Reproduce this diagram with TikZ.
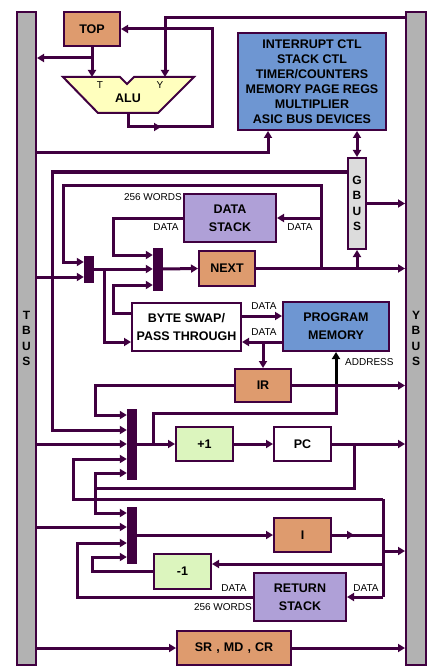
\documentclass[tikz,border=0pt]{standalone}
\usepackage{fontspec}
\setmainfont{Liberation Sans}
\usetikzlibrary{arrows.meta}

\definecolor{wirec}{RGB}{64,0,64}
\definecolor{busgray}{RGB}{178,178,178}
\definecolor{gbusgray}{RGB}{220,220,220}
\definecolor{regorange}{RGB}{222,155,110}
\definecolor{periphblue}{RGB}{110,150,210}
\definecolor{stacklav}{RGB}{175,160,215}
\definecolor{incgreen}{RGB}{220,245,190}
\definecolor{aluyellow}{RGB}{255,255,190}

\newcommand{\boxfont}{\bfseries\fontsize{12.5}{18}\selectfont}
\newcommand{\busfont}{\bfseries\fontsize{12}{15.5}\selectfont}
\newcommand{\lblfont}{\fontsize{10}{12}\selectfont}

\begin{document}
\begin{tikzpicture}[x=1pt,y=-1pt,
  wire/.style={line width=3pt, draw=wirec},
  arr/.style={wire, -{Triangle[length=7pt,width=8pt]}},
  darr/.style={wire, {Triangle[length=7pt,width=8pt]}-{Triangle[length=7pt,width=8pt]}},
  box/.style={draw=wirec, line width=2pt, inner sep=0pt, align=center, font=\boxfont},
  bus/.style={box, fill=busgray, font=\busfont},
  mux/.style={draw=wirec, fill=wirec, inner sep=0pt, minimum width=9pt},
  lbl/.style={font=\lblfont, inner sep=0pt}]
\fill[white] (0,0) rectangle (436,671);
\useasboundingbox (0,0) rectangle (436,671);

% Buses
\node[bus, minimum width=19pt, minimum height=653pt] (tbus) at (26.5,338.5) {T\\B\\U\\S};
\node[bus, minimum width=20pt, minimum height=653pt] (ybus) at (416,338.5) {Y\\B\\U\\S};
\node[bus, fill=gbusgray, minimum width=18pt, minimum height=91pt] (gbus) at (357,203.5) {G\\B\\U\\S};

% Registers and blocks
\node[box, fill=regorange, minimum width=56pt, minimum height=34pt] (top) at (92,29) {TOP};
\node[box, fill=periphblue, minimum width=148pt, minimum height=97pt, font=\bfseries\fontsize{12.5}{15}\selectfont] (periph) at (312,81.5)
  {INTERRUPT CTL\\STACK CTL\\TIMER/COUNTERS\\MEMORY PAGE REGS\\MULTIPLIER\\ASIC BUS DEVICES};
\node[box, fill=stacklav, minimum width=92pt, minimum height=48pt] (dstack) at (230,218) {DATA\\STACK};
\node[box, fill=regorange, minimum width=56pt, minimum height=35pt] (next) at (227,268.5) {NEXT};
\node[box, fill=white, minimum width=109pt, minimum height=48pt] (swap) at (186.5,327) {BYTE SWAP/\\PASS THROUGH};
\node[box, fill=periphblue, minimum width=106pt, minimum height=49pt] (pmem) at (336,326.5) {PROGRAM\\MEMORY};
\node[box, fill=regorange, minimum width=56pt, minimum height=33pt] (ir) at (263,385.5) {IR};
\node[box, fill=incgreen, minimum width=57pt, minimum height=34pt] (inc) at (204.5,444) {+1};
\node[box, fill=white, minimum width=57pt, minimum height=34pt] (pc) at (302.5,444) {PC};
\node[box, fill=regorange, minimum width=57pt, minimum height=34pt] (ireg) at (302.5,535) {I};
\node[box, fill=incgreen, minimum width=57pt, minimum height=35pt] (dec) at (182.5,571.5) {-1};
\node[box, fill=stacklav, minimum width=92pt, minimum height=48pt] (rstack) at (300,597) {RETURN\\STACK};
\node[box, fill=regorange, minimum width=114pt, minimum height=34pt] (sr) at (234,648) {SR\,\,,\,\,MD\,\,,\,\,CR};

% Multiplexers
\node[mux, minimum height=26pt] (mux1) at (88.5,269) {};
\node[mux, minimum height=42pt] (mux2) at (157.5,269) {};
\node[mux, minimum height=70pt] (mux3) at (131.5,444) {};
\node[mux, minimum height=56pt] (mux4) at (131.5,535) {};

% ALU
\draw[wirec, line width=2pt, fill=aluyellow] (63,77) -- (120,77) -- (127,84) -- (134,77) -- (194,77) -- (158,113) -- (98,113) -- cycle;
\coordinate (aluT) at (92,77);
\coordinate (aluY) at (165,77);
\coordinate (aluO) at (128,113);
\node[font=\boxfont] (alu) at (128,98) {ALU};
\node[lbl] (alut) at (100,85) {T};
\node[lbl] (aluy) at (160,85) {Y};

% Top section
\draw[arr] (top.south) -- (aluT);
\draw[arr] (92,58) -- (tbus.east |- 0,58);
\draw[arr] (ybus.west |- 0,18) -| (aluY);
\draw[arr] (aluO) |- (161,127);
\draw[arr] (156,127) -- (212,127) |- (top.east);
\draw[arr] (tbus.east |- 0,153) -| (periph.south -| 268,0);
\draw[darr] (periph.south -| gbus.north) -- (gbus.north);
\draw[arr] (gbus.east) -- (gbus.east -| ybus.west);
\draw[arr] (gbus.west |- 0,172) -| (52,430) -- (mux3.west |- 0,430);

% NEXT and data stack
\draw[arr] (next.east) -- (next.east -| ybus.west);
\draw[arr] (gbus.south |- next.east) -- (gbus.south);
\draw[arr] (321,268.5) -- (321,185) -| (63,262) -- (mux1.west |- 0,262);
\draw[arr] (dstack.east -| 321,0) -- (dstack.east);
\draw[arr] (dstack.west) -| (113,255) -- (mux2.west |- 0,255);
\draw[arr] (tbus.east |- 0,277) -- (mux1.west |- 0,277);
\draw[arr] (mux1.east) -- (mux2.west |- mux1.east);
\draw[arr] (104,269) |- (swap.west |- 0,342);
\draw[arr] (swap.west |- 0,313) -| (113,285) -- (mux2.west |- 0,285);
\draw[arr] (mux2.east) -- (next.west);
\node[lbl, anchor=east] (dsw) at (182,197) {256 WORDS};
\node[lbl] (dsdl) at (166,227) {DATA};
\node[lbl] (dsdr) at (300,227) {DATA};

% Program memory
\draw[arr] (swap.east |- 0,316) -- (pmem.west |- 0,316);
\draw[arr] (pmem.west |- 0,342) -- (swap.east |- 0,342);
\draw[arr] (ir.north |- 0,342) -- (ir.north);
\node[lbl] (pmd1) at (264,306) {DATA};
\node[lbl] (pmd2) at (264,332) {DATA};
\draw[line width=3pt, black, -{Triangle[length=7pt,width=8pt]}] (pmem.south |- ir.east) -- (pmem.south);
\node[lbl, anchor=west] (addr) at (345,362) {ADDRESS};

% IR, PC
\draw[arr] (ir.east) -- (ir.east -| ybus.west);
\draw[arr] (ir.west) -| (95,415) -- (mux3.west |- 0,415);
\draw[arr] (tbus.east |- mux3.west) -- (mux3.west);
\draw[arr] (mux3.east) -- (inc.west);
\draw[wire] (153,444) |- (pmem.south |- 0,413) -- (pmem.south |- ir.east);
\draw[arr] (inc.east) -- (pc.west);
\draw[arr] (pc.east) -- (pc.east -| ybus.west);
\draw[arr] (354,444) |- (95,488) |- (mux3.west |- 0,473);
\draw[arr] (95,488) |- (mux4.west |- 0,513);

% I and return stack
\draw[arr] (tbus.east |- 0,527) -- (mux4.west |- 0,527);
\draw[arr] (mux4.east) -- (ireg.west);
\draw[arr] (ireg.east) -- (354,535);
\draw[wire] (350,535) -- (383,535);
\draw[wire] (383,499) -- (383,597);
\draw[arr] (383,499) -| (73,459) -- (mux3.west |- 0,459);
\draw[arr] (383,551) -- (ybus.west |- 0,551);
\draw[arr] (383,564) -- (dec.east |- 0,564);
\draw[arr] (383,597) -- (rstack.east);
\draw[arr] (rstack.west) -| (77,543) -- (mux4.west |- 0,543);
\draw[arr] (dec.west) -| (92,557) -- (mux4.west |- 0,557);
\node[lbl] (rsdl) at (234,588) {DATA};
\node[lbl] (rsdr) at (366,588) {DATA};
\node[lbl, anchor=east] (rsw) at (252,607) {256 WORDS};

% Status registers
\draw[arr] (tbus.east |- sr.west) -- (sr.west);
\draw[arr] (sr.east) -- (sr.east -| ybus.west);
\end{tikzpicture}
\end{document}
